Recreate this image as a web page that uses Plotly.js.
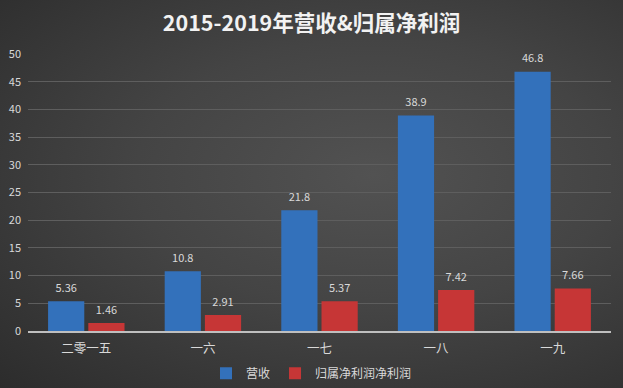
<!DOCTYPE html>
<html><head><meta charset="utf-8">
<script src="https://cdn.plot.ly/plotly-3.0.1.min.js"></script>
<style>
html,body{margin:0;padding:0;}
#chart{width:623px;height:388px;background:radial-gradient(ellipse at 60% 45%, #525252 0%, #444444 45%, #2c2c2c 100%);}
</style></head><body>
<div id="chart"></div>
<script>
var categories = ['二零一五','一六','一七','一八','一九'];
var revenue = [5.36, 10.8, 21.8, 38.9, 46.8];
var netProfit = [1.46, 2.91, 5.37, 7.42, 7.66];
var seriesNames = ['营收','归属净利润净利润'];
var yTicks = [0,5,10,15,20,25,30,35,40,45,50];

var font = '"Noto Sans CJK SC", "Noto Sans", sans-serif';
function labelTrace(vals){
  return {type:'scatter', mode:'markers+text', x:categories, y:vals, text:vals.map(String),
    textposition:'top center', cliponaxis:false, showlegend:false, hoverinfo:'skip',
    marker:{size:9, color:'rgba(0,0,0,0)'},
    textfont:{color:'#d9d9d9', size:11, family:font}};
}
var traces = [
  {type:'bar', name:seriesNames[0], x:categories, y:revenue, marker:{color:'#3371bb'}},
  {type:'bar', name:seriesNames[1], x:categories, y:netProfit, marker:{color:'#c63636'}},
  labelTrace(revenue),
  labelTrace(netProfit)
];
var layout = {
  width:623, height:388,
  paper_bgcolor:'rgba(0,0,0,0)', plot_bgcolor:'rgba(0,0,0,0)',
  margin:{l:28, r:12, t:54, b:57},
  font:{family:font, color:'#d9d9d9', size:11},
  title:{text:'<b>2015-2019年营收&归属净利润</b>', x:0.5, xanchor:'center', y:0.94, yanchor:'middle',
         font:{size:21.5, color:'#f2f2f2', family:font}},
  barmode:'group', bargap:0.31, bargroupgap:0.1,
  scattermode:'group', scattergap:0.31,
  xaxis:{showgrid:false, showline:true, linecolor:'#bfbfbf', linewidth:1.5, ticks:'',
         tickfont:{size:12.5, color:'#d9d9d9'}, ticklabelstandoff:5, fixedrange:true},
  yaxis:{range:[0,50], tickvals:yTicks, showgrid:true, gridcolor:'#5e5e5e', gridwidth:1,
         zeroline:false, ticks:'', tickfont:{size:11, color:'#d9d9d9'}, ticklabelstandoff:6, fixedrange:true},
  showlegend:true,
  legend:{orientation:'h', x:0.5, xanchor:'center', xref:'container', y:0.038, yref:'container', yanchor:'middle',
          font:{size:12, color:'#d9d9d9'}, itemwidth:30, bgcolor:'rgba(0,0,0,0)', tracegroupgap:0}
};
Plotly.newPlot('chart', traces, layout, {displayModeBar:false, staticPlot:true});
</script>
</body></html>
